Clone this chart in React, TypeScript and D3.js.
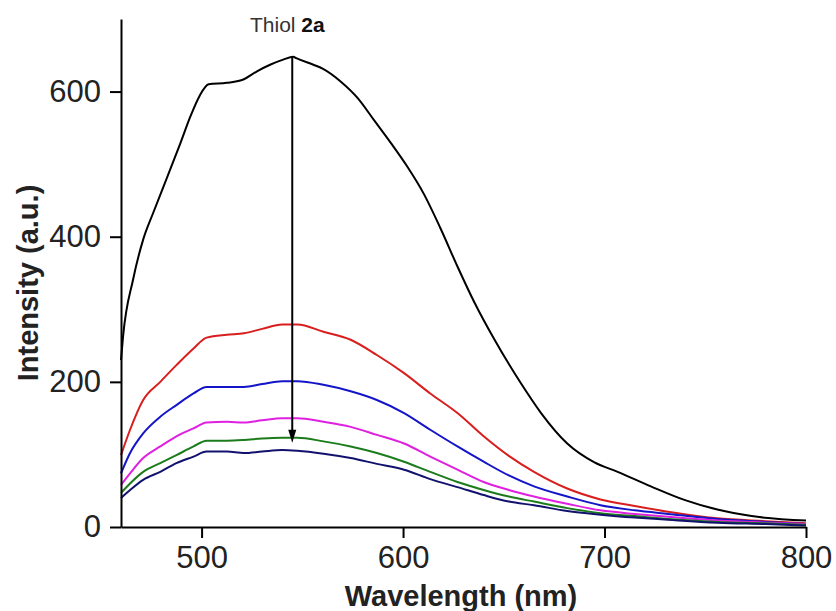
import React, { useEffect, useRef } from 'react';
import * as d3 from 'd3';

// wavelengths (nm) shared by the five quenched spectra
const wavelengths = [460, 464.5, 471, 479.5, 487.5, 496, 502.5, 512.5, 521, 530, 540, 547.5, 560.5, 574, 587, 600.5, 613.5, 627, 640, 652.5, 665, 681.5, 698, 715, 731.5, 756, 780, 800];
const redVals = [99, 134, 175, 200, 223, 246, 261, 265, 267, 273, 279, 279, 269, 258, 237, 212, 184, 157, 125, 98, 76, 53, 38, 29, 21, 12, 8, 5];
const blueVals = [74, 102, 129, 152, 168, 184, 193, 193, 193, 197, 201, 201, 196, 187, 175, 157, 134, 111, 90, 71, 56, 42, 30, 23, 18, 11, 7, 4];
const magentaVals = [58, 74, 95, 111, 125, 136, 144, 145, 144, 147, 150, 150, 145, 138, 127, 115, 97, 79, 62, 51, 42, 32, 23, 18, 14, 9, 6, 4];
const greenVals = [47, 60, 76, 88, 99, 111, 119, 119, 120, 122, 123, 123, 118, 111, 102, 90, 76, 62, 51, 42, 35, 26, 19, 15, 11, 7, 5, 3];
const navyVals = [40, 51, 65, 76, 88, 97, 104, 104, 102, 104, 106, 105, 101, 95, 87, 79, 66, 55, 44, 35, 30, 22, 17, 13, 10, 6, 4, 2];

// the unquenched spectrum (no thiol) is sampled more densely
const blackWl = [460, 461, 466, 471, 476, 482.5, 489.5, 494.5, 499, 503.5, 512.5, 521, 527.5, 534, 540.5, 545.5, 547, 555.5, 560.5, 569, 577.5, 585.5, 594, 602, 610.5, 618.5, 627, 635.5, 645, 658.5, 668.5, 681.5, 695, 706.5, 723, 740, 756, 773, 800];
const blackVals = [230, 262, 341, 396, 433, 479, 529, 566, 594, 610, 612, 617, 628, 637, 644, 648, 646, 637, 631, 614, 591, 561, 529, 497, 458, 412, 359, 309, 260, 198, 157, 115, 89, 76, 56, 37, 24, 15, 9];

const xTicks = [500, 600, 700, 800];
const yTicks = [0, 200, 400, 600];

const series = [
  { wl: blackWl, vals: blackVals, color: '#000000' },
  { wl: wavelengths, vals: redVals, color: '#d91e1e' },
  { wl: wavelengths, vals: blueVals, color: '#1414c8' },
  { wl: wavelengths, vals: magentaVals, color: '#e020e0' },
  { wl: wavelengths, vals: greenVals, color: '#1c7c1c' },
  { wl: wavelengths, vals: navyVals, color: '#12126e' },
];

// arrow: from top of black peak down to green curve
const arrowX = 545;
const arrowFrom = 648;
const arrowTo = 116;

const width = 836;
const height = 611;
const margin = { left: 121, right: 30, top: 19, bottom: 84 };
const font = '"Liberation Sans", Arial, sans-serif';

const App = () => {
  const svgRef = useRef<SVGSVGElement | null>(null);

  useEffect(() => {
    const svg = d3.select(svgRef.current);
    svg.selectAll('*').remove();

    const x = d3.scaleLinear().domain([460, 800]).range([margin.left, width - margin.right]);
    const y = d3.scaleLinear().domain([0, 700]).range([height - margin.bottom, margin.top]);

    const line = d3.line<[number, number]>()
      .x(d => x(d[0]))
      .y(d => y(d[1]))
      .curve(d3.curveMonotoneX);

    // spectra
    const g = svg.append('g');
    series.forEach(s => {
      g.append('path')
        .datum(s.wl.map((w, i) => [w, s.vals[i]] as [number, number]))
        .attr('d', line)
        .attr('fill', 'none')
        .attr('stroke', s.color)
        .attr('stroke-width', 2)
        .attr('stroke-linejoin', 'round');
    });

    // axes
    const xAxis = svg.append('g')
      .attr('transform', `translate(0,${height - margin.bottom})`)
      .call(d3.axisBottom(x).tickValues(xTicks).tickSize(11).tickSizeOuter(0).tickPadding(8));
    const yAxis = svg.append('g')
      .attr('transform', `translate(${margin.left},0)`)
      .call(d3.axisLeft(y).tickValues(yTicks).tickSize(11).tickSizeOuter(0).tickPadding(9));

    [xAxis, yAxis].forEach(a => {
      a.select('.domain').attr('stroke', '#000').attr('stroke-width', 2);
      a.selectAll('.tick line').attr('stroke', '#000').attr('stroke-width', 2);
      a.selectAll('.tick text')
        .attr('font-family', font)
        .attr('font-size', 31)
        .attr('fill', '#222');
    });

    // arrow
    svg.append('line')
      .attr('x1', x(arrowX)).attr('x2', x(arrowX))
      .attr('y1', y(arrowFrom)).attr('y2', y(arrowTo) - 10)
      .attr('stroke', '#000').attr('stroke-width', 2);
    const tipX = x(arrowX);
    const tipY = y(arrowTo);
    svg.append('path')
      .attr('d', `M${tipX - 4},${tipY - 13} L${tipX + 4},${tipY - 13} L${tipX},${tipY} Z`)
      .attr('fill', '#000');

    // annotation
    const note = svg.append('text')
      .attr('x', 250)
      .attr('y', 32)
      .attr('font-family', font)
      .attr('font-size', 21)
      .attr('fill', '#333');
    note.append('tspan').text('Thiol ');
    note.append('tspan').attr('font-weight', 'bold').attr('fill', '#111').text('2a');

    // axis titles
    svg.append('text')
      .attr('x', 461)
      .attr('y', 606)
      .attr('text-anchor', 'middle')
      .attr('font-family', font)
      .attr('font-weight', 'bold')
      .attr('font-size', 29)
      .attr('fill', '#222')
      .text('Wavelength (nm)');

    svg.append('text')
      .attr('transform', `translate(38,283) rotate(-90)`)
      .attr('text-anchor', 'middle')
      .attr('font-family', font)
      .attr('font-weight', 'bold')
      .attr('font-size', 29)
      .attr('fill', '#222')
      .text('Intensity (a.u.)');
  }, []);

  return (
    <svg
      ref={svgRef}
      width={width}
      height={height}
      style={{ position: 'absolute', left: 0, top: 0, background: '#fff' }}
    />
  );
};

export default App;
